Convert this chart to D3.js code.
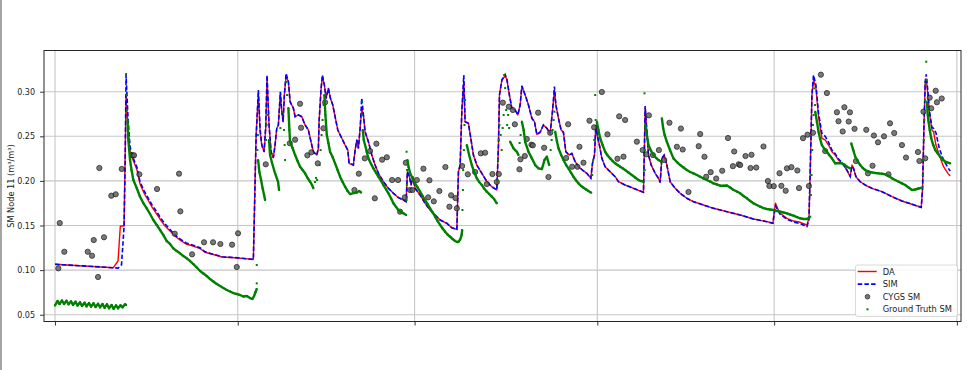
<!DOCTYPE html>
<html>
<head>
<meta charset="utf-8">
<script src="https://cdn.jsdelivr.net/npm/d3@7"></script>
<style>
  body { margin: 0; background: #fff; }
  svg { display: block; font-family: "DejaVu Sans", sans-serif; }
</style>
</head>
<body>
<script>
// x values are days from the first month tick, y values are soil moisture (m3/m3)
const xTicks = [0, 31, 61, 92, 122, 153];
const yTicks = [0.05, 0.10, 0.15, 0.20, 0.25, 0.30];

const daSeries = [
[0,0.1065],[9.89,0.1027],[10.69,0.1102],[11.08,0.1494],[11.71,0.1494],[12.05,0.2952],[12.39,0.2571],[12.73,0.2324],[13.24,0.2234],[13.91,0.2122],[14.42,0.1965],[15.1,0.1864],[15.78,0.1786],[16.46,0.1707],[17.14,0.164],[17.82,0.1573],[18.5,0.1506],[19.18,0.1461],[19.85,0.1416],[20.53,0.1371],[21.21,0.1337],[22.23,0.1293],[23.42,0.127],[24.6,0.1242],[25.45,0.12],[27.15,0.1169],[28.34,0.1147],[30.54,0.1139],[33.65,0.1121],[34.11,0.2515],[34.5,0.2982],[34.79,0.2552],[35.08,0.2402],[35.47,0.2327],[35.75,0.259],[35.97,0.3154],[36.31,0.2627],[36.65,0.2327],[37.04,0.226],[37.33,0.2402],[37.62,0.259],[37.89,0.2627],[38.23,0.2985],[38.47,0.2776],[38.69,0.2664],[38.91,0.2963],[39.2,0.3176],[39.59,0.3112],[39.88,0.2888],[40.44,0.2814],[40.73,0.272],[41.29,0.2739],[41.86,0.272],[42.42,0.2627],[42.98,0.2571],[43.56,0.2402],[43.83,0.2327],[44.41,0.229],[44.68,0.2366],[44.8,0.2664],[45.14,0.3038],[45.36,0.3165],[45.7,0.3075],[45.99,0.2926],[46.38,0.3038],[46.72,0.2926],[47.12,0.2851],[47.51,0.272],[47.97,0.2571],[48.65,0.2478],[49.21,0.2402],[49.67,0.2346],[49.89,0.2197],[50.62,0.2178],[50.91,0.2346],[51.2,0.2459],[51.47,0.2366],[51.76,0.259],[52.04,0.2806],[52.32,0.2739],[52.6,0.2552],[53.16,0.244],[53.74,0.229],[54.3,0.2178],[54.86,0.2085],[55.71,0.1991],[56.56,0.1917],[57.41,0.1861],[58.26,0.1812],[59.1,0.1786],[59.56,0.1767],[59.78,0.2103],[60.12,0.2047],[60.41,0.1954],[60.7,0.2047],[61.09,0.1917],[61.94,0.1842],[62.79,0.1749],[63.63,0.1674],[64.48,0.1618],[65.33,0.1562],[66.47,0.1525],[67.32,0.1475],[68.17,0.1457],[68.44,0.2103],[68.73,0.2178],[69.01,0.2776],[69.35,0.3112],[69.57,0.2664],[70.13,0.2646],[70.54,0.2478],[70.98,0.229],[71.56,0.2178],[72.41,0.2085],[73.26,0.1991],[74.1,0.1935],[74.95,0.1898],[75.23,0.2402],[75.4,0.2963],[75.81,0.3131],[76.36,0.3176],[76.65,0.3142],[77.09,0.2963],[77.5,0.2814],[78.06,0.2795],[78.52,0.2739],[78.91,0.2851],[79.2,0.3064],[79.76,0.2963],[80.32,0.2851],[80.9,0.2702],[81.34,0.2664],[81.74,0.2522],[82.3,0.2545],[82.86,0.2627],[83.44,0.259],[84.0,0.2534],[84.39,0.2776],[84.73,0.3019],[84.97,0.2851],[85.41,0.2702],[85.86,0.2571],[86.25,0.2545],[86.66,0.2327],[87.22,0.229],[87.68,0.2309],[88.24,0.2215],[88.8,0.2159],[89.48,0.2122],[90.23,0.2085],[90.9,0.2029],[91.18,0.2197],[91.52,0.229],[91.75,0.2608],[92.09,0.2478],[92.36,0.2402],[92.77,0.2253],[93.33,0.2159],[94.18,0.2103],[95.03,0.2047],[95.59,0.1991],[96.72,0.1954],[97.86,0.1924],[98.98,0.1895],[99.83,0.1872],[100.0,0.2402],[100.12,0.2817],[100.41,0.2552],[100.68,0.229],[101.14,0.2178],[101.82,0.2085],[102.38,0.2029],[102.66,0.1984],[102.95,0.2253],[103.34,0.229],[103.8,0.2178],[104.36,0.1991],[105.21,0.1917],[106.06,0.1861],[107.19,0.1805],[108.31,0.1767],[110.01,0.173],[111.71,0.1693],[113.98,0.1655],[116.24,0.1618],[118.5,0.1573],[120.77,0.1543],[121.79,0.1525],[122.01,0.1655],[122.23,0.1749],[122.57,0.1693],[123.03,0.1637],[124.17,0.158],[125.29,0.155],[126.42,0.1536],[127.56,0.1506],[127.9,0.158],[128.12,0.2103],[128.41,0.2963],[128.68,0.3131],[129.09,0.3038],[129.53,0.272],[130.1,0.2478],[130.66,0.2459],[131.22,0.2402],[131.8,0.2327],[132.36,0.229],[132.92,0.2234],[133.5,0.2197],[134.06,0.2148],[134.62,0.2085],[134.91,0.2047],[135.2,0.2178],[135.47,0.2141],[135.88,0.2047],[136.6,0.1991],[137.45,0.1954],[138.59,0.1917],[140.29,0.1879],[141.99,0.1823],[143.68,0.1775],[145.38,0.1738],[146.96,0.1704],[147.18,0.1917],[147.41,0.259],[147.63,0.3112],[147.8,0.3142],[148.09,0.2963],[148.31,0.2776],[148.77,0.2571],[149.04,0.2552],[149.45,0.2402],[150.01,0.229],[150.74,0.2159],[151.49,0.2085],[151.87,0.2055]
];

const simSeries = [
[0,0.1065],[9.89,0.1027],[10.69,0.1022],[11.28,0.106],[11.71,0.1483],[11.9,0.22],[12.05,0.3187],[12.39,0.27],[12.73,0.238],[13.24,0.226],[13.91,0.215],[14.42,0.199],[15.1,0.189],[15.78,0.181],[16.46,0.173],[17.14,0.1665],[17.82,0.1595],[18.5,0.153],[19.18,0.148],[19.85,0.143],[20.53,0.1385],[21.21,0.135],[22.23,0.1305],[23.42,0.128],[24.6,0.125],[25.45,0.1205],[27.15,0.1172],[28.34,0.115],[30.54,0.114],[33.65,0.112],[34.11,0.248],[34.5,0.3019],[34.79,0.258],[35.08,0.2402],[35.47,0.2327],[35.75,0.262],[35.97,0.3187],[36.31,0.2627],[36.65,0.2327],[37.04,0.226],[37.33,0.2402],[37.62,0.259],[37.89,0.2627],[38.23,0.3],[38.47,0.2776],[38.69,0.2664],[38.91,0.2963],[39.2,0.3206],[39.59,0.3112],[39.88,0.2888],[40.44,0.2814],[40.73,0.272],[41.29,0.2739],[41.86,0.272],[42.42,0.2627],[42.98,0.2571],[43.56,0.2402],[43.83,0.2327],[44.41,0.229],[44.68,0.2366],[44.8,0.2664],[45.14,0.3038],[45.36,0.3187],[45.7,0.3075],[45.99,0.2926],[46.38,0.3038],[46.72,0.2926],[47.12,0.2851],[47.51,0.272],[47.97,0.2571],[48.65,0.2478],[49.21,0.2402],[49.67,0.2346],[49.89,0.2197],[50.62,0.2178],[50.91,0.2346],[51.2,0.2459],[51.47,0.2366],[51.76,0.259],[52.04,0.2926],[52.32,0.2739],[52.6,0.2552],[53.16,0.244],[53.74,0.229],[54.3,0.2178],[54.86,0.2085],[55.71,0.1991],[56.56,0.1917],[57.41,0.1861],[58.26,0.1812],[59.1,0.1786],[59.56,0.1767],[59.78,0.2103],[60.12,0.2047],[60.41,0.1954],[60.7,0.2047],[61.09,0.1917],[61.94,0.1842],[62.79,0.1749],[63.63,0.1674],[64.48,0.1618],[65.33,0.1562],[66.47,0.1525],[67.32,0.1475],[68.17,0.1457],[68.44,0.2103],[68.73,0.2178],[69.01,0.2776],[69.35,0.3187],[69.57,0.2664],[70.13,0.2646],[70.54,0.2478],[70.98,0.229],[71.56,0.2178],[72.41,0.2085],[73.26,0.1991],[74.1,0.1935],[74.95,0.1898],[75.23,0.2402],[75.4,0.2963],[75.81,0.3131],[76.36,0.3195],[76.65,0.3142],[77.09,0.2963],[77.5,0.2814],[78.06,0.2795],[78.52,0.2739],[78.91,0.2851],[79.2,0.3064],[79.76,0.2963],[80.32,0.2851],[80.9,0.2702],[81.34,0.2664],[81.74,0.2522],[82.3,0.2545],[82.86,0.2627],[83.44,0.259],[84.0,0.2534],[84.39,0.2776],[84.73,0.3057],[84.97,0.2851],[85.41,0.2702],[85.86,0.2571],[86.25,0.2545],[86.66,0.2327],[87.22,0.229],[87.68,0.2309],[88.24,0.2215],[88.8,0.2159],[89.48,0.2122],[90.23,0.2085],[90.9,0.2029],[91.18,0.2197],[91.52,0.229],[91.75,0.2627],[92.09,0.2478],[92.36,0.2402],[92.77,0.2253],[93.33,0.2159],[94.18,0.2103],[95.03,0.2047],[95.59,0.1991],[96.72,0.1954],[97.86,0.1924],[98.98,0.1895],[99.83,0.1872],[100.0,0.2402],[100.12,0.284],[100.41,0.2552],[100.68,0.229],[101.14,0.2178],[101.82,0.2085],[102.38,0.2029],[102.66,0.1984],[102.95,0.2253],[103.34,0.229],[103.8,0.2178],[104.36,0.1991],[105.21,0.1917],[106.06,0.1861],[107.19,0.1805],[108.31,0.1767],[110.01,0.173],[111.71,0.1693],[113.98,0.1655],[116.24,0.1618],[118.5,0.1573],[120.77,0.1543],[121.79,0.1525],[122.01,0.163],[122.23,0.172],[122.57,0.168],[123.03,0.1625],[124.17,0.157],[125.29,0.154],[126.42,0.1522],[127.56,0.1487],[127.9,0.156],[128.12,0.2103],[128.41,0.2963],[128.68,0.3187],[129.09,0.3075],[129.53,0.276],[130.1,0.2534],[130.66,0.25],[131.22,0.2435],[131.8,0.2345],[132.36,0.2305],[132.92,0.2245],[133.5,0.2205],[134.06,0.2155],[134.62,0.209],[134.91,0.205],[135.2,0.2165],[135.47,0.2141],[135.88,0.2047],[136.6,0.1991],[137.45,0.1954],[138.59,0.1917],[140.29,0.1879],[141.99,0.1823],[143.68,0.1775],[145.38,0.1738],[146.96,0.1704],[147.18,0.1917],[147.41,0.259],[147.63,0.3112],[147.8,0.3195],[148.09,0.3],[148.31,0.28],[148.77,0.26],[149.04,0.259],[149.45,0.254],[150.01,0.2366],[150.74,0.2234],[151.49,0.2148],[151.87,0.2111]
];

const cygsPoints = [
[0.56,0.102],[0.8,0.1528],[1.58,0.1206],[5.55,0.1206],[6.28,0.1161],[6.57,0.1337],[7.3,0.0923],[7.52,0.2145],[8.31,0.1368],[9.55,0.1834],[10.3,0.185],[11.32,0.2134],[13.18,0.2287],[13.41,0.2287],[14.31,0.2074],[17.31,0.1909],[20.31,0.1408],[21.04,0.2081],[21.26,0.1659],[23.25,0.1177],[25.28,0.1312],[26.81,0.1312],[28.05,0.1293],[30.04,0.1285],[30.83,0.1035],[31.05,0.1413],
[35.75,0.2186],[39.83,0.2422],[40.73,0.2462],[41.57,0.2865],[41.74,0.2596],[42.81,0.2287],[43.49,0.2321],[44.58,0.2197],[45.53,0.259],[45.82,0.2881],
[50.79,0.1898],[51.54,0.2081],[52.55,0.2253],[53.45,0.2335],[54.25,0.1805],[54.52,0.2417],[55.49,0.2238],[56.29,0.2265],[57.19,0.201],[58.2,0.201],[58.54,0.1655],[59.34,0.1816],[59.51,0.2204],[60.24,0.1898],[60.63,0.1898],[61.38,0.201],[62.5,0.2137],[63.3,0.1816],[63.52,0.2007],[64.26,0.1771],[65.21,0.1887],[66.23,0.2156],[66.91,0.1711],[67.2,0.1839],[67.93,0.1808],[68.17,0.1693],[69.07,0.2167],[70.03,0.2074],[71.27,0.21],[72.24,0.2309],[72.97,0.2316],[73.26,0.1965],[74.21,0.2077],[74.95,0.1988],[75.29,0.2077],
[75.97,0.2877],[76.99,0.2832],[77.67,0.2795],[78.01,0.2635],[78.79,0.213],[78.96,0.2242],[79.7,0.2279],[80.04,0.247],[80.83,0.2406],[81.06,0.2399],[81.96,0.2765],[82.98,0.2372],[83.71,0.2044],[84.0,0.254],[86.71,0.2257],[87.05,0.2635],[87.73,0.2159],[88.63,0.2159],[88.97,0.2383],[89.65,0.2204],[90.67,0.2675],[91.46,0.2601],
[92.77,0.2997],[93.72,0.2522],[95.42,0.2249],[95.71,0.2724],[96.44,0.2272],[96.72,0.2683],[98.71,0.244],[99.69,0.2346],[100.33,0.2298],[100.75,0.2735],[101.43,0.229],[102.45,0.2346],[103.35,0.2234],[104.24,0.2652],[105.5,0.2383],[106.18,0.2587],[106.49,0.2352],[107.47,0.1876],[109.2,0.2389],[109.45,0.2526],[110.18,0.2271],[110.47,0.2047],[111.23,0.2098],[112.17,0.2027],[113.19,0.2114],[114.17,0.2481],[115.0,0.2165],[115.22,0.233],[115.98,0.2186],[116.24,0.2178],[117.14,0.2279],[117.99,0.2145],[118.16,0.2293],[118.96,0.215],[120.19,0.2386],[120.94,0.1999],[121.19,0.1943],[121.93,0.1941],
[122.91,0.2086],[123.23,0.1945],[123.96,0.189],[124.17,0.2141],[124.93,0.2154],[125.94,0.2117],[126.22,0.192],[126.9,0.2479],[127.66,0.2518],[127.9,0.1943],[128.59,0.254],[129.93,0.3191],[130.95,0.2985],[130.66,0.2335],[132.65,0.277],[132.92,0.2669],[133.63,0.2554],[133.92,0.2826],[134.65,0.2666],[134.86,0.2769],[135.64,0.2584],[135.88,0.2223],[137.63,0.2573],[137.92,0.2085],[138.69,0.217],[138.93,0.2509],[139.62,0.2433],[140.64,0.25],[141.4,0.2074],[141.66,0.2646],[142.37,0.2537],[143.68,0.2402],[144.37,0.2262],[146.4,0.2324],[146.65,0.2223],[147.33,0.2776],[147.63,0.2253],[148.39,0.2933],[148.65,0.2814],[149.41,0.3011],[149.61,0.2882],[150.43,0.2924]
];

// ground truth: continuous stretches (null = gap) plus scattered readings during wetting spikes
const gtLine = [
[0,0.0603],[0.42,0.0654],[0.76,0.062],[1.19,0.0659],[1.53,0.062],[1.95,0.0657],[2.29,0.0617],[2.72,0.065],[3.05,0.0609],[3.48,0.0646],[3.82,0.0603],[4.24,0.0639],[4.58,0.0598],[5.01,0.0635],[5.35,0.0594],[5.77,0.0631],[6.11,0.059],[6.53,0.0628],[6.87,0.0586],[7.3,0.0623],[7.64,0.0583],[8.06,0.062],[8.4,0.0578],[8.82,0.0617],[9.16,0.0572],[9.59,0.0609],[9.93,0.0567],[10.35,0.0605],[10.69,0.0572],[11.11,0.0605],[11.45,0.0583],[11.88,0.0617],[12.05,0.0609],
null,
[12.3,0.2683],[12.44,0.2459],[12.73,0.2234],[12.98,0.2122],[13.29,0.201],[13.86,0.192],[14.42,0.1823],[14.98,0.1752],[15.56,0.1693],[16.12,0.1629],[16.68,0.1562],[17.26,0.1506],[17.82,0.145],[18.38,0.1393],[18.96,0.1326],[19.51,0.1293],[20.07,0.1244],[20.65,0.1214],[21.21,0.1188],[21.77,0.1158],[22.35,0.1132],[22.91,0.1102],[23.47,0.1068],[24.05,0.1029],[24.61,0.099],[25.17,0.0962],[25.74,0.0934],[26.3,0.09],[26.86,0.0872],[27.44,0.0844],[28.0,0.0822],[28.56,0.0799],[29.14,0.0777],[29.7,0.076],[30.26,0.0743],[30.83,0.0732],[31.39,0.0721],[31.95,0.0704],[32.53,0.071],[33.09,0.0687],[33.48,0.0676],[33.77,0.071],[34.02,0.0755],[34.22,0.0788],
null,
[34.45,0.2234],[34.67,0.21],[34.96,0.201],[35.21,0.192],[35.47,0.1842],[35.64,0.1786],
null,
[36.31,0.2459],[36.48,0.229],[36.82,0.2201],[37.16,0.2122],[37.5,0.2055],[37.84,0.1988],[38.01,0.1898],
null,
[39.59,0.2817],[39.76,0.2571],[39.88,0.2439],[40.3,0.2369],[40.73,0.229],[41.15,0.2223],[41.57,0.2159],[42.0,0.2122],[42.42,0.2085],[42.85,0.2033],[43.27,0.1991],[43.61,0.1954],[43.83,0.1917],
null,
[45.7,0.2963],[45.87,0.2739],[46.11,0.2515],[46.38,0.2425],[46.66,0.2327],[47.09,0.2268],[47.51,0.2197],[47.94,0.2122],[48.36,0.2047],[48.79,0.1988],[49.21,0.1935],[49.63,0.1887],[50.06,0.1853],[50.62,0.1864],[51.2,0.187],[51.59,0.1887],[51.93,0.187],
null,
[52.21,0.2571],[52.38,0.2459],[52.6,0.2402],[52.89,0.2324],[53.16,0.2253],[53.62,0.2189],[54.01,0.2141],[54.47,0.2089],[54.86,0.2047],[55.32,0.1999],[55.71,0.1954],[56.17,0.1904],[56.56,0.1861],[57.02,0.1803],[57.41,0.1749],[57.87,0.1707],[58.26,0.1674],[58.71,0.1651],[59.1,0.1637],[59.56,0.1618],
null,
[59.78,0.2234],[59.98,0.2156],[60.24,0.2085],[60.67,0.2027],[61.09,0.1973],[61.52,0.1926],[61.94,0.1879],[62.37,0.1831],[62.79,0.1786],[63.21,0.1741],[63.63,0.1693],[64.06,0.1646],[64.48,0.1599],[64.91,0.155],[65.33,0.1506],[65.76,0.1466],[66.18,0.1431],[66.6,0.1399],[67.03,0.1374],[67.45,0.1349],[67.88,0.1326],[68.22,0.1315],[68.44,0.1318],[68.73,0.1343],[68.98,0.1393],[69.07,0.145],
null,
[69.86,0.2402],[70.25,0.229],[70.71,0.2178],[71.1,0.21],[71.56,0.2029],[71.95,0.1988],[72.41,0.1954],[72.8,0.1915],[73.26,0.1879],[73.65,0.1853],[74.1,0.1823],[74.49,0.1797],[74.95,0.1749],
null,
[77.21,0.2439],[77.5,0.2402],[77.77,0.2366],[78.06,0.2346],[78.35,0.2327],[78.62,0.229],
null,
[79.2,0.2664],[79.5,0.2571],[79.76,0.2439],[80.32,0.2327],[80.9,0.2253],[81.46,0.2178],[82.02,0.2141],[82.6,0.2133],[83.04,0.2234],[83.44,0.2271],[83.83,0.2178],
null,
[84.85,0.2552],[85.14,0.2447],[85.41,0.2366],[85.87,0.229],[86.26,0.2234],[86.71,0.2178],[87.1,0.2141],[87.56,0.2089],[87.95,0.2047],[88.41,0.2005],[88.8,0.1973],[89.26,0.1943],[89.65,0.1924],[90.11,0.1904],[90.5,0.1887],[90.96,0.1868],
null,
[91.92,0.2664],[92.19,0.2571],[92.48,0.2478],[92.9,0.2402],[93.33,0.2327],[93.75,0.2285],[94.18,0.2253],[94.6,0.2223],[95.03,0.2197],[95.45,0.2178],[95.88,0.2159],[96.3,0.2141],[96.72,0.2122],[97.29,0.2094],[97.86,0.2066],[98.42,0.2038],[98.98,0.201],[99.44,0.1999],[99.83,0.1991],
null,
[100.12,0.2627],[100.41,0.2515],[100.68,0.2402],[101.05,0.2346],[101.53,0.229],[101.99,0.2257],[102.38,0.2234],[102.84,0.2215],
null,
[102.95,0.2702],[103.17,0.2593],[103.42,0.2515],[103.8,0.2439],[104.36,0.2341],[104.92,0.2253],[105.5,0.2212],[106.06,0.2178],[106.62,0.215],[107.19,0.2122],[107.75,0.21],[108.31,0.2085],[108.89,0.2066],[109.45,0.2047],[110.01,0.2027],[110.58,0.201],[111.15,0.1993],[111.71,0.1973],[112.28,0.196],[112.85,0.1946],[113.41,0.1946],[113.98,0.1948],[114.54,0.1926],[115.11,0.1898],[115.68,0.1881],[116.24,0.1861],[116.8,0.1831],[117.38,0.1805],[117.94,0.1775],[118.5,0.1749],[119.07,0.173],[119.63,0.1711],[120.19,0.1696],[120.77,0.1685],[121.33,0.1679],[121.89,0.1674],[122.46,0.1663],[123.03,0.1655],[123.59,0.1646],[124.17,0.1637],[124.73,0.1623],[125.29,0.161],[125.87,0.1595],[126.42,0.1581],[126.98,0.1573],[127.56,0.1573],[127.83,0.1584],[128.12,0.1599],
null,
[128.97,0.2776],[129.26,0.2664],[129.53,0.2552],[129.81,0.247],[130.1,0.2402],[130.49,0.2363],[130.95,0.2327],[131.34,0.229],[131.8,0.2253],[132.36,0.2197],[132.92,0.2201],[133.5,0.2197],[133.89,0.2184],[134.35,0.2159],[134.91,0.2141],
null,
[135.08,0.2421],[135.42,0.2346],[135.76,0.2271],[136.18,0.2223],[136.6,0.2178],[137.03,0.2145],[137.45,0.2122],[138.02,0.2105],[138.59,0.2096],[139.15,0.2089],[139.71,0.2085],[140.29,0.208],[140.85,0.2074],[141.42,0.2055],[141.99,0.2029],[142.54,0.201],[143.11,0.1991],[143.68,0.1973],[144.24,0.1954],[144.81,0.1926],[145.38,0.1898],[145.94,0.1904],[146.5,0.1915],[147.08,0.1924],
null,
[147.92,0.2888],[148.06,0.2739],[148.2,0.2664],[148.4,0.2571],[148.65,0.2478],[148.99,0.2402],[149.33,0.2346],[149.76,0.2307],[150.18,0.2271],[150.6,0.224],[151.03,0.2215],[151.45,0.2206],[151.87,0.2197]
];

const gtSpots = [
[12.05,0.3198],[12.13,0.2963],[12.22,0.2795],
[34.22,0.0852],[34.22,0.1057],[34.33,0.2346],[34.42,0.2515],
[35.81,0.2459],[35.9,0.2627],[36.03,0.2739],
[38.23,0.2593],[38.57,0.2772],[38.86,0.2571],[38.95,0.2402],[39.03,0.2234],[39.2,0.3109],[39.37,0.2963],
[44.12,0.1988],[44.29,0.2033],[44.46,0.201],
[44.88,0.2178],[45.05,0.2346],[45.22,0.2515],[45.39,0.2683],[45.56,0.2851],
[52.04,0.2888],[52.09,0.2739],
[59.64,0.1786],[59.69,0.1954],[59.73,0.2122],[59.64,0.2327],
[69.12,0.1674],[69.19,0.1898],[69.24,0.2122],[69.36,0.2346],[69.46,0.2627],[69.57,0.2907],
[75.05,0.201],[75.17,0.2234],[75.29,0.2459],[75.4,0.2627],[75.6,0.2515],[75.77,0.2346],[75.94,0.2593],[76.11,0.2739],[76.2,0.3187],[76.36,0.3041],[76.53,0.2795],[76.7,0.2627],[76.87,0.2739],[77.04,0.2593],
[78.82,0.2425],[78.99,0.2515],
[84.08,0.2346],[84.25,0.2459],[84.42,0.2571],[84.59,0.2683],[84.73,0.2776],
[91.13,0.2066],[91.3,0.2234],[91.47,0.2459],[91.64,0.2963],[91.72,0.2683],
[100.0,0.2982],[100.04,0.2346],[100.04,0.2122],
[128.24,0.1842],[128.34,0.2066],[128.46,0.2346],[128.58,0.2627],[128.68,0.2739],[128.8,0.3038],[128.92,0.2851],
[147.22,0.2066],[147.3,0.2234],[147.39,0.2459],[147.47,0.2683],[147.59,0.2907],[147.69,0.3075],[147.8,0.3336],[147.85,0.3131]
];

const legendLabels = ["DA", "SIM", "CYGS SM", "Ground Truth SM"];

const W = 980, H = 370;
const margin = {top: 50.5, right: 19, bottom: 48.5, left: 44};

const x = d3.scaleLinear().domain([-1.87, 153.7]).range([margin.left, W - margin.right]);
const y = d3.scaleLinear().domain([0.0424, 0.3462]).range([H - margin.bottom, margin.top]);

const svg = d3.select("body").append("svg")
  .attr("width", W)
  .attr("height", H);

svg.append("rect").attr("width", W).attr("height", H).attr("fill", "#fff");
// thin grey strip along the left edge of the figure
svg.append("rect").attr("x", 0).attr("y", 0).attr("width", 2).attr("height", H).attr("fill", "#a4a4a4");

// grid
const grid = svg.append("g").attr("stroke", "#c6c6c6").attr("stroke-width", 1.1);
grid.selectAll(".gy").data(yTicks).enter().append("line")
  .attr("x1", margin.left).attr("x2", W - margin.right)
  .attr("y1", d => y(d)).attr("y2", d => y(d));
grid.selectAll(".gx").data(xTicks).enter().append("line")
  .attr("y1", margin.top).attr("y2", H - margin.bottom)
  .attr("x1", d => x(d)).attr("x2", d => x(d));

const plot = svg.append("g");
const line = d3.line().defined(d => d !== null).x(d => x(d[0])).y(d => y(d[1]));

plot.append("path").datum(daSeries)
  .attr("d", line).attr("fill", "none")
  .attr("stroke", "#ff0000").attr("stroke-width", 1.4).attr("stroke-linejoin", "round");

plot.append("path").datum(simSeries)
  .attr("d", line).attr("fill", "none")
  .attr("stroke", "#0000ff").attr("stroke-width", 1.6)
  .attr("stroke-dasharray", "4.5,2.2");

plot.selectAll(".cygs").data(cygsPoints).enter().append("circle")
  .attr("cx", d => x(d[0])).attr("cy", d => y(d[1]))
  .attr("r", 2.6)
  .attr("fill", "#5c5c5c").attr("stroke", "#111").attr("stroke-width", 0.9)
  .attr("opacity", 0.82);

plot.append("path").datum(gtLine)
  .attr("d", line).attr("fill", "none")
  .attr("stroke", "#008000").attr("stroke-width", 2.4).attr("stroke-linejoin", "round");

plot.selectAll(".gt").data(gtLine.filter(d => d !== null).concat(gtSpots)).enter().append("rect")
  .attr("x", d => x(d[0]) - 1).attr("y", d => y(d[1]) - 1)
  .attr("width", 2).attr("height", 2)
  .attr("fill", "#008000");

// axes
const yAxis = d3.axisLeft(y).tickValues(yTicks).tickFormat(d3.format(".2f")).tickSize(4).tickPadding(5);
const xAxis = d3.axisBottom(x).tickValues(xTicks).tickFormat(() => "").tickSize(4);

const gy = svg.append("g").attr("transform", `translate(${margin.left},0)`).call(yAxis);
const gx = svg.append("g").attr("transform", `translate(0,${H - margin.bottom})`).call(xAxis);
[gx, gy].forEach(g => {
  g.select(".domain").remove();
  g.selectAll(".tick line").attr("stroke", "#222").attr("stroke-width", 0.9);
  g.selectAll(".tick text").attr("fill", "#222").style("font-size", "8px").style("font-family", "DejaVu Sans");
});

svg.append("rect")
  .attr("x", margin.left).attr("y", margin.top)
  .attr("width", W - margin.left - margin.right)
  .attr("height", H - margin.top - margin.bottom)
  .attr("fill", "none").attr("stroke", "#262626").attr("stroke-width", 1);

svg.append("text")
  .attr("transform", `translate(11,${(margin.top + H - margin.bottom) / 2}) rotate(-90)`)
  .attr("text-anchor", "middle").attr("dominant-baseline", "middle")
  .style("font-size", "8.2px").attr("fill", "#222")
  .text("SM Node 11 (m³/m³)");

// legend
const lg = svg.append("g").attr("transform", "translate(855.5,265)");
lg.append("rect").attr("width", 102).attr("height", 51.5).attr("rx", 2)
  .attr("fill", "#fff").attr("fill-opacity", 0.85).attr("stroke", "#d0d0d0").attr("stroke-width", 0.8);
const rowY = i => 6.5 + i * 12.6;
lg.append("line").attr("x1", 2.2).attr("x2", 21.2).attr("y1", rowY(0)).attr("y2", rowY(0))
  .attr("stroke", "#ff0000").attr("stroke-width", 1.4);
lg.append("line").attr("x1", 2.2).attr("x2", 21.2).attr("y1", rowY(1)).attr("y2", rowY(1))
  .attr("stroke", "#0000ff").attr("stroke-width", 1.6).attr("stroke-dasharray", "4.5,2.2");
lg.append("circle").attr("cx", 12).attr("cy", rowY(2)).attr("r", 2.3)
  .attr("fill", "#5c5c5c").attr("stroke", "#111").attr("stroke-width", 0.9).attr("opacity", 0.82);
lg.append("rect").attr("x", 11).attr("y", rowY(3) - 1).attr("width", 2).attr("height", 2).attr("fill", "#008000");
lg.selectAll(".lt").data(legendLabels).enter().append("text")
  .attr("x", 27.2).attr("y", (d, i) => rowY(i))
  .attr("dominant-baseline", "central")
  .style("font-size", "8.3px").attr("fill", "#222")
  .text(d => d);
</script>
</body>
</html>
